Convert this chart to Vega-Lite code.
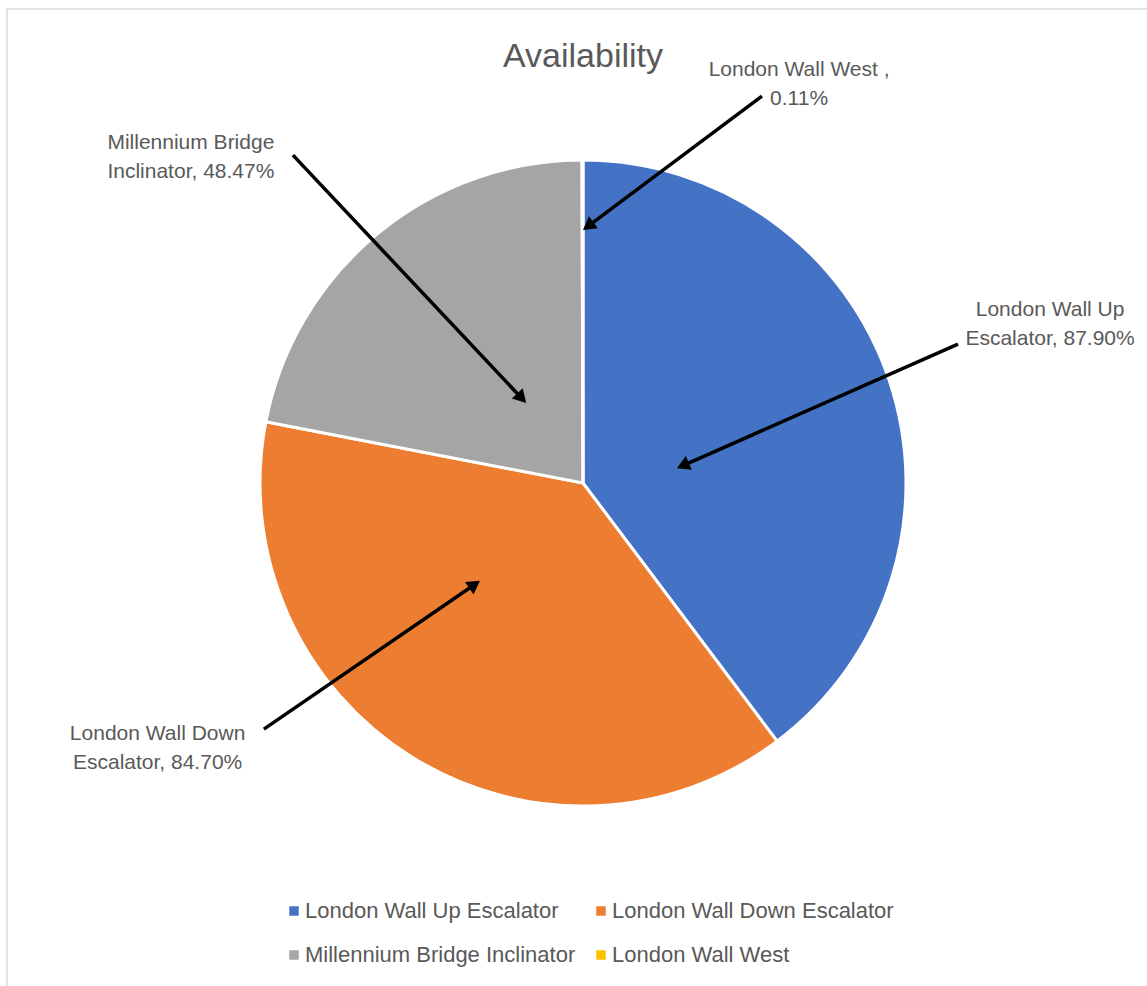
{
  "$schema": "https://vega.github.io/schema/vega-lite/v6.json",
  "width": 1160,
  "height": 1000,
  "autosize": {"type": "none"},
  "padding": {"left": 7, "top": 9, "right": 0, "bottom": 0},
  "background": "white",
  "config": {
    "view": {"stroke": "#d9d9d9", "strokeWidth": 1.5},
    "font": "Liberation Sans"
  },
  "title": {
    "text": "Availability",
    "fontSize": 34,
    "font": "Liberation Sans",
    "fontWeight": "normal",
    "color": "#595959",
    "anchor": "middle",
    "frame": "group",
    "baseline": "alphabetic",
    "offset": 0,
    "dy": 92,
    "dx": -4
  },
  "datasets": {
    "slices": [
      {"asset": "London Wall Up Escalator", "availability": 87.90, "rank": 1},
      {"asset": "London Wall Down Escalator", "availability": 84.70, "rank": 2},
      {"asset": "Millennium Bridge Inclinator", "availability": 48.47, "rank": 3},
      {"asset": "London Wall West", "availability": 0.11, "rank": 4}
    ],
    "callouts": [
      {"asset": "London Wall West", "label": "London Wall West ,\n0.11%", "lx": 0.669, "ly": 1.235, "tx": 0.554, "ty": 1.198, "hx": 0.0, "hy": 0.783},
      {"asset": "Millennium Bridge Inclinator", "label": "Millennium Bridge\nInclinator, 48.47%", "lx": -1.214, "ly": 1.009, "tx": -0.898, "ty": 1.015, "hx": -0.176, "hy": 0.248},
      {"asset": "London Wall Up Escalator", "label": "London Wall Up\nEscalator, 87.90%", "lx": 1.446, "ly": 0.492, "tx": 1.161, "ty": 0.430, "hx": 0.291, "hy": 0.046},
      {"asset": "London Wall Down Escalator", "label": "London Wall Down\nEscalator, 84.70%", "lx": -1.317, "ly": -0.820, "tx": -0.988, "ty": -0.762, "hx": -0.319, "hy": -0.303}
    ]
  },
  "layer": [
    {
      "data": {"name": "slices"},
      "mark": {"type": "arc", "outerRadius": 323, "stroke": "white", "strokeWidth": 3},
      "encoding": {
        "theta": {"field": "availability", "type": "quantitative", "stack": true},
        "order": {"field": "rank", "type": "quantitative"},
        "color": {
          "field": "asset",
          "type": "nominal",
          "scale": {
            "domain": ["London Wall Up Escalator", "London Wall Down Escalator", "Millennium Bridge Inclinator", "London Wall West"],
            "range": ["#4472C4", "#ED7D31", "#A5A5A5", "#FFC000"]
          },
          "legend": {
            "title": null,
            "orient": "none",
            "legendX": 276,
            "legendY": 891,
            "direction": "horizontal",
            "columns": 2,
            "symbolType": "square",
            "symbolSize": 90,
            "symbolStrokeWidth": 0,
            "labelFontSize": 22,
            "labelColor": "#595959",
            "labelFont": "Liberation Sans",
            "labelLimit": 500,
            "labelOffset": 0,
            "rowPadding": 22,
            "columnPadding": 14,
            "padding": 0
          }
        },
        "x": {"datum": 0, "type": "quantitative", "scale": {"domain": [-1.78328, 1.80805], "nice": false, "zero": false}, "axis": null},
        "y": {"datum": 0, "type": "quantitative", "scale": {"domain": [-1.62848, 1.46749], "nice": false, "zero": false}, "axis": null}
      }
    },
    {
      "data": {"name": "callouts"},
      "transform": [
        {"calculate": "sqrt(pow(datum.hx - datum.tx, 2) + pow(datum.hy - datum.ty, 2))", "as": "len"},
        {"calculate": "datum.hx - 0.02 * (datum.hx - datum.tx) / datum.len", "as": "px"},
        {"calculate": "datum.hy - 0.02 * (datum.hy - datum.ty) / datum.len", "as": "py"},
        {"calculate": "atan2(datum.hx - datum.tx, datum.hy - datum.ty) * 180 / PI", "as": "ang"}
      ],
      "layer": [
        {
          "mark": {"type": "rule", "strokeWidth": 3.5, "color": "black"},
          "encoding": {
            "x": {"field": "tx", "type": "quantitative"},
            "y": {"field": "ty", "type": "quantitative"},
            "x2": {"field": "px"},
            "y2": {"field": "py"}
          }
        },
        {
          "mark": {"type": "point", "shape": "triangle-up", "filled": true, "color": "black", "opacity": 1, "size": 225},
          "encoding": {
            "x": {"field": "px", "type": "quantitative"},
            "y": {"field": "py", "type": "quantitative"},
            "angle": {"field": "ang", "type": "quantitative", "scale": null}
          }
        },
        {
          "mark": {"type": "text", "fontSize": 21, "color": "#595959", "lineBreak": "\n", "align": "center", "baseline": "middle", "lineHeight": 29, "dy": -14, "font": "Liberation Sans"},
          "encoding": {
            "x": {"field": "lx", "type": "quantitative"},
            "y": {"field": "ly", "type": "quantitative"},
            "text": {"field": "label", "type": "nominal"}
          }
        }
      ]
    }
  ]
}
